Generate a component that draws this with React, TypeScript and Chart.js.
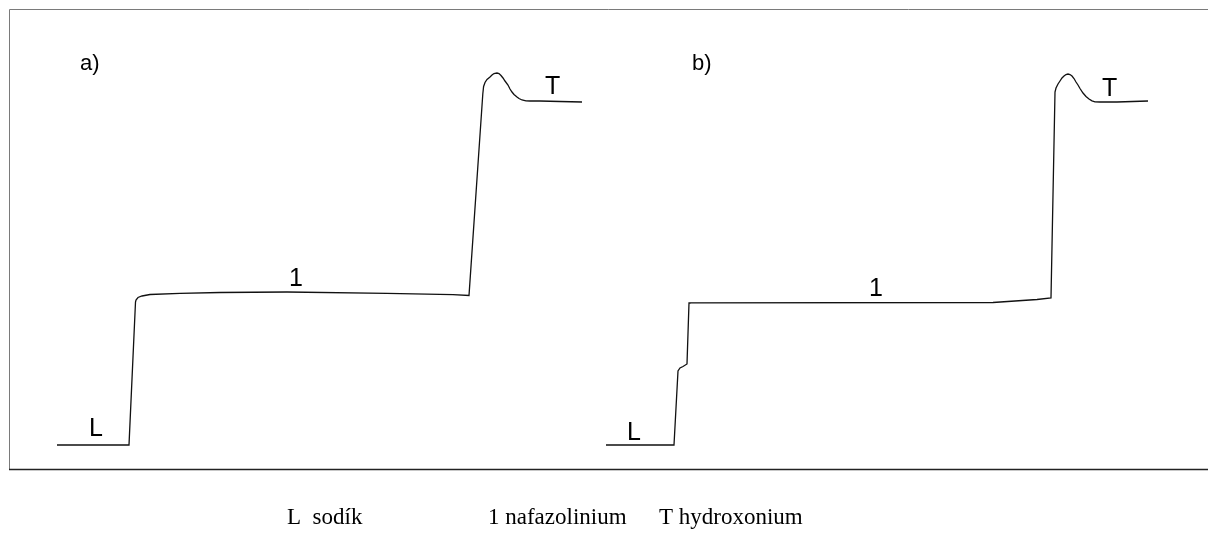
import React, { useEffect, useRef } from "react";
import { Chart, registerables } from "chart.js";

Chart.register(...registerables);

// trace a) : migration time (arb.) vs. detector signal (arb.)
const timeA = [47, 119, 125.5, 126, 128, 132, 140, 170, 210, 277, 377, 443, 459, 472.8, 473.6, 475, 477, 480, 482, 484, 487, 489, 491, 493, 495, 498, 500, 502, 504, 507, 509, 512, 516, 520, 530, 550, 572];
const signalA = [25, 25, 168, 170, 172.5, 174, 175.5, 176.7, 177.5, 178, 176.7, 175.3, 174.5, 376, 383.5, 387.5, 390.5, 393, 395, 396.5, 397, 396.5, 394.5, 392, 389, 385, 381, 378, 375.5, 373, 371.5, 370, 369.2, 369, 369, 368.5, 368];

// trace b)
const timeB = [596, 664, 668, 670, 673, 677, 679, 680, 983, 1027, 1041, 1045, 1046, 1048, 1050, 1052, 1054, 1056, 1058, 1060, 1062, 1064, 1066, 1068, 1070, 1073, 1076, 1079, 1082, 1085, 1090, 1107, 1138];
const signalB = [25, 25, 99, 102, 103.5, 106, 167, 167.2, 167.5, 170.5, 172, 378, 382, 386, 389, 392, 394, 395.5, 396, 395.5, 394, 391.5, 388, 385, 381.5, 377, 373.5, 371, 369.2, 368.2, 368, 368, 369];

// zone labels
const labelTexts = ["a)", "b)", "L", "L", "1", "1", "T", "T"];
const labelX = [70, 682, 79, 617, 279, 859, 535, 1092];
const labelY = [400, 400, 34, 30, 184, 174, 376, 374];

// legend below the chart
const legendTexts = ["L  sodík", "1 nafazolinium", "T hydroxonium"];

export default function App() {
  const ref = useRef<HTMLCanvasElement | null>(null);

  useEffect(() => {
    document.body.style.margin = "0";
    const canvas = ref.current;
    if (!canvas) return;

    const toPts = (xs: number[], ys: number[]) => xs.map((x, i) => ({ x, y: ys[i] }));

    const decor = {
      id: "decor",
      beforeDatasetsDraw(chart: any) {
        const { ctx, chartArea } = chart;
        ctx.save();
        ctx.lineWidth = 1;
        ctx.strokeStyle = "#7a7a7a";
        ctx.beginPath();
        ctx.moveTo(chartArea.left - 0.5, chartArea.bottom);
        ctx.lineTo(chartArea.left - 0.5, chartArea.top - 0.5);
        ctx.lineTo(chartArea.right, chartArea.top - 0.5);
        ctx.stroke();
        ctx.strokeStyle = "#222";
        ctx.lineWidth = 1.4;
        ctx.beginPath();
        ctx.moveTo(chartArea.left - 1, chartArea.bottom - 0.5);
        ctx.lineTo(chartArea.right, chartArea.bottom - 0.5);
        ctx.stroke();
        ctx.restore();
      },
      afterDatasetsDraw(chart: any) {
        const { ctx, scales } = chart;
        ctx.save();
        ctx.fillStyle = "#000";
        ctx.textBaseline = "alphabetic";
        ctx.textAlign = "left";
        labelTexts.forEach((t, i) => {
          const isPanel = t.endsWith(")");
          ctx.font = isPanel ? "22px 'Liberation Sans', Arial, sans-serif" : "25px 'Liberation Sans', Arial, sans-serif";
          ctx.fillText(t, scales.x.getPixelForValue(labelX[i]), scales.y.getPixelForValue(labelY[i]));
        });
        ctx.font = "23px 'Liberation Serif', 'Times New Roman', serif";
        const lx = [287, 488, 659];
        legendTexts.forEach((t, i) => ctx.fillText(t, lx[i], 524));
        ctx.restore();
      },
    };

    const chart = new Chart(canvas, {
      type: "line",
      data: {
        datasets: [
          { label: "a", data: toPts(timeA, signalA) },
          { label: "b", data: toPts(timeB, signalB) },
        ].map((d) => ({
          ...d,
          borderColor: "#111",
          borderWidth: 1.3,
          pointRadius: 0,
          fill: false,
          tension: 0,
        })),
      },
      options: {
        animation: false,
        responsive: false,
        maintainAspectRatio: false,
        layout: { padding: { left: 10, top: 10, right: 0, bottom: 70 } },
        plugins: { legend: { display: false }, tooltip: { enabled: false } },
        scales: {
          x: { type: "linear", min: 0, max: 1198, display: false },
          y: { type: "linear", min: 0, max: 460, display: false },
        },
      },
      plugins: [decor],
    });
    return () => chart.destroy();
  }, []);

  return (
    <div style={{ width: 1208, height: 540, background: "#fff" }}>
      <canvas ref={ref} width={1208} height={540} style={{ display: "block" }} />
    </div>
  );
}
